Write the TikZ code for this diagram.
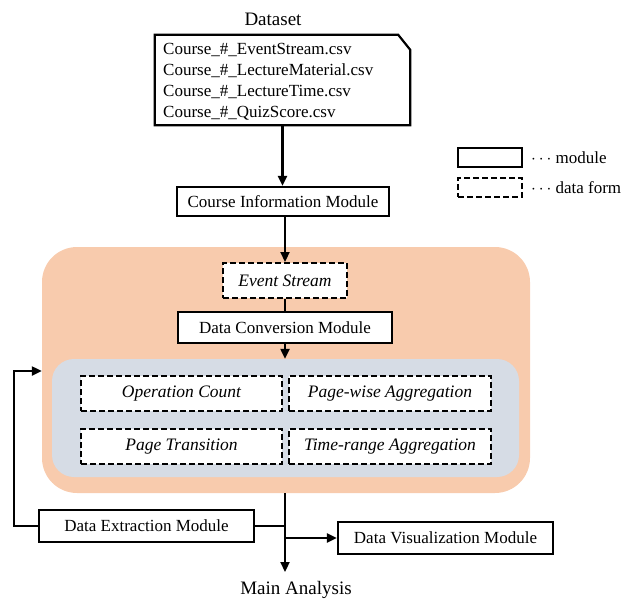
\documentclass[tikz,border=0pt]{standalone}
\usepackage{fontspec}
\setmainfont{Liberation Serif}
\usetikzlibrary{arrows.meta,calc}
\definecolor{orangebg}{HTML}{F8CBAD}
\definecolor{bluebg}{HTML}{D6DCE5}
\begin{document}
\begin{tikzpicture}[x=1pt,y=-1pt,
 module/.style={draw, line width=2.2pt, fill=white, inner sep=0pt, font=\fontsize{17}{20}\selectfont},
 dataform/.style={draw, line width=2pt, dash pattern=on 6pt off 3pt, fill=white, inner sep=0pt, font=\fontsize{17.5}{20}\selectfont\itshape},
 conn/.style={line width=2.2pt, -{Triangle[length=10pt,width=9pt]}},
 plain/.style={line width=2.2pt},
 lbl/.style={font=\fontsize{19}{22}\selectfont, inner sep=0pt}]
\useasboundingbox (0,0) rectangle (623,600);
% containers
\node[fill=orangebg, rounded corners=35pt, minimum width=488, minimum height=246, inner sep=0pt] (orange) at (286,370) {};
\node[fill=bluebg, rounded corners=22pt, minimum width=467, minimum height=118, inner sep=0pt] (blue) at (285.5,418) {};
% dataset
\node[lbl] (dslabel) at (273,19) {Dataset};
\node[inner sep=0pt, minimum width=255, minimum height=90] (ds) at (282.5,80) {};
\draw[plain, line join=miter] (ds.north west) -- ($(ds.north east)+(-12,0)$) -- ($(ds.north east)+(0,15)$) -- (ds.south east) -- (ds.south west) -- cycle;
\node[anchor=north west, align=left, inner sep=0pt, font=\fontsize{17}{21}\selectfont] (dstext) at (163,43)
 {Course\_\#\_EventStream.csv\\Course\_\#\_LectureMaterial.csv\\Course\_\#\_LectureTime.csv\\Course\_\#\_QuizScore.csv};
% modules
\node[module, minimum width=212, minimum height=29] (cim) at (283,201.5) {Course Information Module};
\node[dataform, minimum width=124, minimum height=35] (es) at (285,280.5) {Event Stream};
\node[module, minimum width=214, minimum height=31] (dcm) at (285,327.5) {Data Conversion Module};
\node[dataform, minimum width=201, minimum height=35] (opc) at (181.5,393.5) {Operation Count};
\node[dataform, minimum width=202, minimum height=35] (pwa) at (390,393.5) {Page-wise Aggregation};
\node[dataform, minimum width=201, minimum height=35] (pt) at (181.5,446.5) {Page Transition};
\node[dataform, minimum width=202, minimum height=35] (tra) at (390,446.5) {Time-range Aggregation};
\node[module, minimum width=215, minimum height=32] (dem) at (146.5,526) {Data Extraction Module};
\node[module, minimum width=215, minimum height=32] (dvm) at (445.5,538) {Data Visualization Module};
\node[lbl] (ma) at (296,590) {Main Analysis};
% legend
\node[module, minimum width=64, minimum height=19] (legmod) at (490,157.5) {};
\node[dataform, minimum width=64, minimum height=19] (legdf) at (490,187.5) {};
\node[anchor=west, inner sep=0pt, font=\fontsize{17}{20}\selectfont] (legmodt) at (531,158) {$\cdots$ module};
\node[anchor=west, inner sep=0pt, font=\fontsize{17}{20}\selectfont] (legdft) at (531,188) {$\cdots$ data form};
% connectors
\coordinate (matop) at (285,572);
\coordinate (turn) at (14,371);
\draw[conn] (ds.south) -- (ds.south |- cim.north);
\draw[conn] (cim.south -| es.north) -- (es.north);
\draw[plain] (es.south) -- (dcm.north);
\draw[conn] (dcm.south) -- (dcm.south |- blue.north);
\draw[conn] (orange.south -| matop) -- (matop);
\draw[plain] (dem.east) -- (dem.east -| matop);
\draw[conn] (dvm.west -| matop) -- (dvm.west);
\draw[conn, line join=miter] (dem.west) -- (dem.west -| turn) -- (turn) -- (turn -| orange.west);
\end{tikzpicture}
\end{document}
